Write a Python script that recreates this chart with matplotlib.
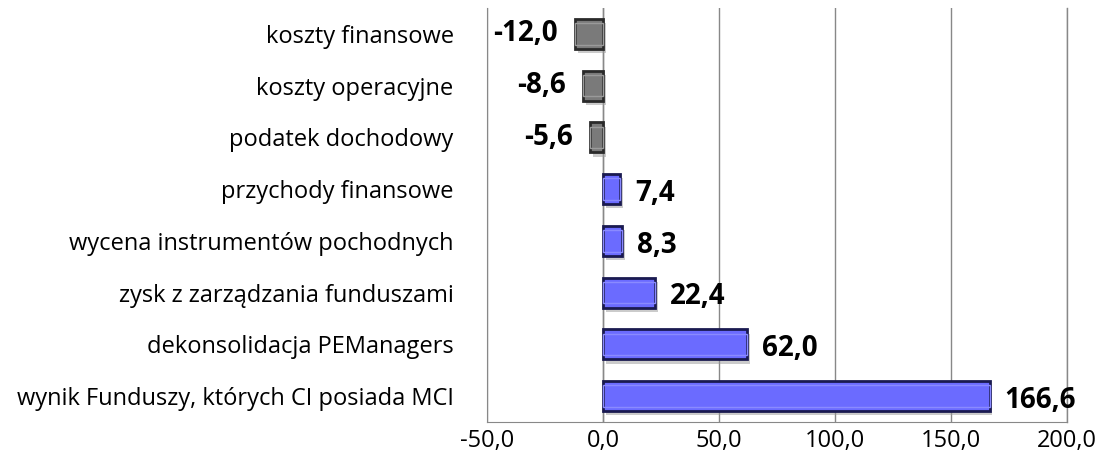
import matplotlib.pyplot as plt
import matplotlib.patheffects as pe

# Data (top to bottom in the chart)
categories = ['koszty finansowe', 'koszty operacyjne', 'podatek dochodowy',
              'przychody finansowe', 'wycena instrumentów pochodnych',
              'zysk z zarządzania funduszami', 'dekonsolidacja PEManagers',
              'wynik Funduszy, których CI posiada MCI']
values = [-12.0, -8.6, -5.6, 7.4, 8.3, 22.4, 62.0, 166.6]
xticks = [-50, 0, 50, 100, 150, 200]

plt.rcParams['font.family'] = ['Open Sans', 'DejaVu Sans']

fig = plt.figure(figsize=(10.98, 4.70), dpi=100)
ax = fig.add_axes([487/1098, 1-422/470, 580/1098, 414/470])

ypos = list(range(len(categories)))[::-1]
shadow = [pe.SimplePatchShadow(offset=(2, -3), shadow_rgbFace='#999999', alpha=0.5),
          pe.Normal()]
for y, v in zip(ypos, values):
    if v < 0:
        fc, ec, ic = '#7a7a7a', '#2a2a2a', '#9a9a9a'
    else:
        fc, ec, ic = '#6b6bff', '#1a1a50', '#8a8aff'
    b = ax.barh(y, v, height=0.58, color=fc, edgecolor=ec, linewidth=2, zorder=3)
    for p in b:
        p.set_path_effects(shadow)
    # inner lighter border
    ax.barh(y, v, height=0.42, color='none', edgecolor=ic, linewidth=1, zorder=4)
    lab = f'{v:.1f}'.replace('.', ',')
    if v < 0:
        ax.text(v - 7.5, y, lab, ha='right', va='center', fontsize=20,
                fontweight='bold', zorder=5)
    else:
        ax.text(v + 6.5, y - 0.08, lab, ha='left', va='center', fontsize=20,
                fontweight='bold', zorder=5)

ax.set_xlim(-50, 200)
ax.set_ylim(-0.5, len(categories) - 0.5)
ax.set_xticks(xticks)
ax.set_xticklabels([f'{t:.1f}'.replace('.', ',') for t in xticks], fontsize=17)
ax.set_yticks(ypos)
ax.set_yticklabels(categories, fontsize=17)
ax.tick_params(axis='both', length=0)
ax.tick_params(axis='y', pad=24)
ax.tick_params(axis='x', pad=5)
ax.grid(axis='x', color='#888888', linewidth=1, zorder=0)
ax.axvline(0, color='#888888', linewidth=1, zorder=1)
ax.axvline(200, color='#888888', linewidth=1, zorder=1, clip_on=False)
for s in ['top', 'right']:
    ax.spines[s].set_visible(False)
for s in ['left', 'bottom']:
    ax.spines[s].set_color('#888888')

fig.savefig('out.png', dpi=100)
